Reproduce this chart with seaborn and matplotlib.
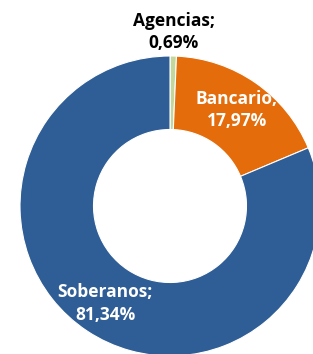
import numpy as np
import matplotlib.pyplot as plt
import seaborn as sns

# datos
categorias = ["Agencias", "Bancario", "Soberanos"]
porcentajes = [0.69, 17.97, 81.34]
etiquetas = ["Agencias;\n0,69%", "Bancario;\n17,97%", "Soberanos;\n81,34%"]
colores = ["#C3D69B", "#E46C0A", "#2F5D95"]

sns.set_theme(style="white")
plt.rcParams['font.family'] = ['Open Sans', 'DejaVu Sans']

W, H = 313, 354
fig = plt.figure(figsize=(W / 100, H / 100), dpi=100)
ax = fig.add_axes([0, 0, 1, 1])

# centro del anillo en pixeles
cx, cy = 170, 206
R = 150

wedges, _ = ax.pie(porcentajes, colors=colores, startangle=90, counterclock=False,
                   radius=R, wedgeprops=dict(width=R * 0.49, edgecolor="white", linewidth=0.8))

# etiquetas
for w, txt, col in zip(wedges, etiquetas, ["#000000", "white", "white"]):
    ang = np.deg2rad((w.theta1 + w.theta2) / 2)
    dist = 1.16 if col == "#000000" else 0.78
    ax.text(dist * R * np.cos(ang), dist * R * np.sin(ang), txt, ha="center", va="center",
            color=col, fontsize=12.5, fontweight="bold", linespacing=1.35)

ax.set_xlim(-cx, W - cx)
ax.set_ylim(-(H - cy), cy)
ax.set_aspect("equal")
ax.axis("off")

plt.savefig("out.png", dpi=100)
plt.close()
